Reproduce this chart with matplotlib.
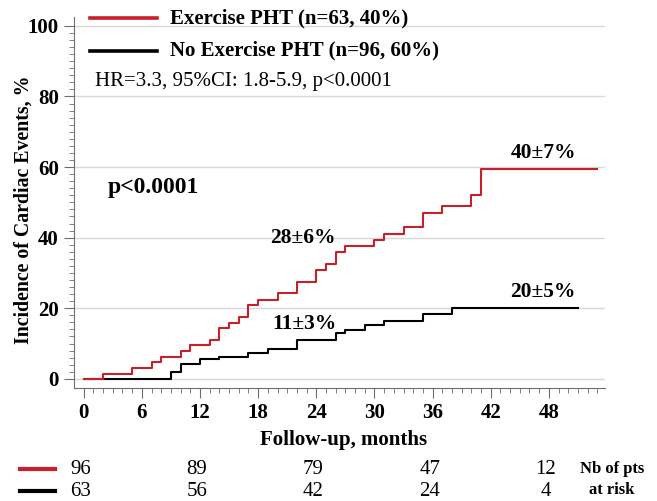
import matplotlib
matplotlib.use("Agg")
import matplotlib.pyplot as plt
from matplotlib.lines import Line2D
import numpy as np

plt.rcParams['font.family'] = ['Liberation Serif', 'DejaVu Serif']

## Kaplan-Meier style cumulative incidence (months, %)
t_exercise   = [0, 2, 5, 7, 8, 10, 11, 13, 14, 15, 16, 17, 18, 20, 22, 24, 25, 26, 27, 30, 31, 33, 35, 37, 40, 41, 53]
inc_exercise = [0, 1.5, 3.1, 4.7, 6.1, 7.9, 9.5, 11.1, 14.3, 15.9, 17.6, 20.9, 22.4, 24.2, 27.4, 30.8, 32.5, 35.9, 37.5, 39.4, 41.0, 42.9, 46.9, 49.1, 52.2, 59.4, 59.4]
t_noex       = [0, 9, 10, 12, 14, 17, 19, 22, 26, 27, 29, 31, 35, 38, 51]
inc_noex     = [0, 2.0, 4.1, 5.6, 6.3, 7.2, 8.5, 10.9, 12.9, 13.9, 15.2, 16.5, 18.5, 20.1, 20.1]

## numbers at risk
risk_months   = [0, 12, 24, 36, 48]
risk_exercise = [96, 89, 79, 47, 12]
risk_noex     = [63, 56, 42, 24, 4]

legend_labels = ["Exercise PHT (n=63, 40%)", "No Exercise PHT (n=96, 60%)"]
hr_text = "HR=3.3, 95%CI: 1.8-5.9, p<0.0001"
pval_text = "p<0.0001"

red = "#c8202a"
spine_col = "#6e6e6e"

fig = plt.figure(figsize=(6.57, 5.01), dpi=100)
ax = fig.add_axes([0.1126, 0.2262, 0.8084, 0.7398])

ax.step(t_noex, inc_noex, where="post", color="black", lw=1.5, zorder=3)
ax.step(t_exercise, inc_exercise, where="post", color=red, lw=1.5, zorder=4)

ax.set_xlim(-1, 53.8)
ax.set_ylim(-2.5, 102.5)
ax.set_xticks(np.arange(0, 49, 6))
ax.set_xticks(np.arange(0, 54, 1), minor=True)
ax.set_yticks(np.arange(0, 101, 20))
ax.set_yticks(np.arange(0, 101, 2), minor=True)
ax.yaxis.grid(True, color="#d8d8d8", lw=1)
ax.set_axisbelow(True)

for s in ["top", "right"]:
    ax.spines[s].set_visible(False)
for s in ["left", "bottom"]:
    ax.spines[s].set_color(spine_col)
ax.tick_params(which="major", length=7, color=spine_col, direction="out", pad=4)
ax.tick_params(which="minor", length=3.5, color=spine_col, direction="out")
for lab in ax.get_xticklabels() + ax.get_yticklabels():
    lab.set_fontweight("bold")
    lab.set_fontsize(15)

ax.set_xlabel("Follow-up, months", fontsize=15, fontweight="bold")
ax.set_ylabel("Incidence of Cardiac Events, %", fontsize=14.3, fontweight="bold")
ax.xaxis.label.set_va("center")
ax.yaxis.label.set_va("center")
ax.xaxis.set_label_coords(0.508, -0.141)
ax.yaxis.set_label_coords(-0.094, 0.479)

## curve annotations
ax.text(47.4, 64, "40\u00b17%", ha="center", va="center", fontsize=15.5, fontweight="bold")
ax.text(47.4, 24.7, "20\u00b15%", ha="center", va="center", fontsize=15.5, fontweight="bold")
ax.text(22.6, 39.9, "28\u00b16%", ha="center", va="center", fontsize=15.5, fontweight="bold")
ax.text(22.8, 15.6, "11\u00b13%", ha="center", va="center", fontsize=15.5, fontweight="bold")
ax.text(2.45, 54.1, pval_text, ha="left", va="center", fontsize=17, fontweight="bold")
ax.text(1.2, 84.2, hr_text, ha="left", va="center", fontsize=15)

## legend drawn by hand at the top
for yy, col, lab in [(1 - 18.3 / 501, red, legend_labels[0]), (1 - 50.7 / 501, "black", legend_labels[1])]:
    fig.add_artist(Line2D([90 / 657, 157 / 657], [yy, yy], color=col, lw=2.6, transform=fig.transFigure))
    fig.text(170 / 657, yy, lab, ha="left", va="center", fontsize=15, fontweight="bold")

## risk table under the axis
for yy, col, vals in [(1 - 469 / 501, red, risk_exercise), (1 - 491 / 501, "black", risk_noex)]:
    fig.add_artist(Line2D([20 / 657, 55 / 657], [yy, yy], color=col, lw=3, transform=fig.transFigure))
    for m, v in zip(risk_months, vals):
        xf = ax.transData.transform((m - 0.3, 0))[0] / fig.bbox.width
        fig.text(xf, yy, str(v), ha="center", va="center", fontsize=15)
fig.text(611.7 / 657, 1 - 469 / 501, "Nb of pts", ha="center", va="center", fontsize=12, fontweight="bold")
fig.text(611.7 / 657, 1 - 490 / 501, "at risk", ha="center", va="center", fontsize=12, fontweight="bold")

fig.savefig("out.png", dpi=100)
